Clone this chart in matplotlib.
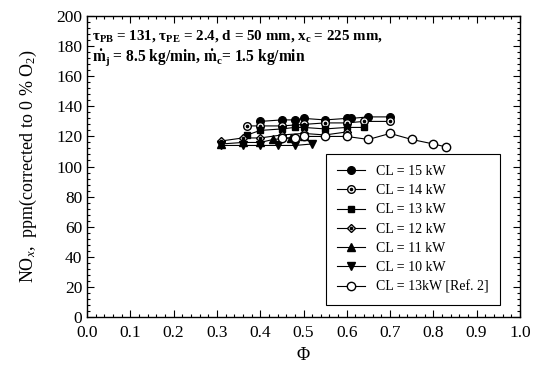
import matplotlib
matplotlib.use("Agg")
import matplotlib.pyplot as plt
from matplotlib.ticker import MultipleLocator

plt.rcParams['font.family'] = ['Liberation Serif', 'DejaVu Serif']
plt.rcParams['mathtext.fontset'] = 'custom'
plt.rcParams['mathtext.rm'] = 'Liberation Serif'
plt.rcParams['mathtext.it'] = 'Liberation Serif:italic'
plt.rcParams['mathtext.bf'] = 'Liberation Serif:bold'

# equivalence ratio vs NOx for each combustor load
phi_15 = [0.40, 0.45, 0.48, 0.50, 0.55, 0.60, 0.61, 0.65, 0.70]
nox_15 = [130, 131, 131, 132, 131, 132, 132, 133, 133]

phi_14 = [0.37, 0.40, 0.45, 0.50, 0.55, 0.60, 0.64, 0.70]
nox_14 = [127, 127, 127, 128, 129, 129, 130, 130]

phi_13 = [0.37, 0.40, 0.45, 0.48, 0.50, 0.55, 0.60, 0.64]
nox_13 = [121, 124, 125, 126, 126, 125, 126, 126]

phi_12 = [0.31, 0.36, 0.40, 0.45, 0.50, 0.55, 0.60]
nox_12 = [117, 119, 119, 121, 122, 121, 123]

phi_11 = [0.31, 0.36, 0.40, 0.43, 0.47, 0.50]
nox_11 = [115, 116, 116, 118, 119, 120]

phi_10 = [0.31, 0.36, 0.40, 0.44, 0.48, 0.52]
nox_10 = [114, 114, 114, 114, 114, 115]

phi_ref = [0.45, 0.48, 0.50, 0.55, 0.60, 0.65, 0.70, 0.75, 0.80, 0.83]
nox_ref = [119, 119, 120, 120, 120, 118, 122, 118, 115, 113]

fig = plt.figure(figsize=(5.41, 3.85), dpi=100)
ax = fig.add_axes([0.161, 0.177, 0.800, 0.781])

ms = 5.5
h15, = ax.plot(phi_15, nox_15, '-o', color='k', mfc='k', ms=ms, lw=0.8)
h14a, = ax.plot(phi_14, nox_14, '-o', color='k', mfc='white', ms=ms, lw=0.8)
h14b, = ax.plot(phi_14, nox_14, 'o', color='k', ms=1.6, lw=0)
h13, = ax.plot(phi_13, nox_13, '-s', color='k', mfc='k', ms=ms - 0.5, lw=0.8)
h12a, = ax.plot(phi_12, nox_12, '-D', color='k', mfc='white', ms=ms - 1, lw=0.8)
h12b, = ax.plot(phi_12, nox_12, 'o', color='k', ms=1.6, lw=0)
h11, = ax.plot(phi_11, nox_11, '-^', color='k', mfc='k', ms=ms, lw=0.8)
h10, = ax.plot(phi_10, nox_10, '-v', color='k', mfc='k', ms=ms, lw=0.8)
href, = ax.plot(phi_ref, nox_ref, '-o', color='k', mfc='white', ms=ms + 0.5, lw=0.8)

ax.set_xlim(0, 1.0)
ax.set_ylim(0, 200)
ax.xaxis.set_major_locator(MultipleLocator(0.1))
ax.xaxis.set_minor_locator(MultipleLocator(0.02))
ax.yaxis.set_major_locator(MultipleLocator(20))
ax.yaxis.set_minor_locator(MultipleLocator(4))
ax.tick_params(which='both', direction='in', top=True, right=True, labelsize=12.5)
ax.tick_params(which='major', length=5, width=0.8)
ax.tick_params(which='minor', length=2.5, width=0.8)
ax.tick_params(axis='x', which='major', pad=6)
ax.set_xticklabels([f"{v:.1f}" for v in ax.get_xticks()])
for s in ax.spines.values():
    s.set_linewidth(1.0)

ax.set_xlabel(r'$\Phi$', fontsize=13, labelpad=4)
ax.set_ylabel(r'NO$_{x}$,  ppm(corrected to 0 % O$_2$)', fontsize=13, labelpad=12)

ax.text(0.012, 0.935,
        r'τ$_\mathbf{PB}$ = 131, τ$_\mathbf{PE}$ = 2.4, d = 50 mm, '
        r'x$_\mathbf{c}$ = 225 mm,',
        transform=ax.transAxes, fontsize=10.8, fontweight='bold',
        va='center', ha='left')
ax.text(0.012, 0.862,
        r'$\mathbf{\dot{m}_j}$ = 8.5 kg/min, $\mathbf{\dot{m}_c}$= 1.5 kg/min',
        transform=ax.transAxes, fontsize=11.2, fontweight='bold',
        va='center', ha='left')

handles = [h15, (h14a, h14b), h13, (h12a, h12b), h11, h10, href]
labels = ['CL = 15 kW', 'CL = 14 kW', 'CL = 13 kW', 'CL = 12 kW',
          'CL = 11 kW', 'CL = 10 kW', 'CL = 13kW [Ref. 2]']
leg = ax.legend(handles, labels, loc='lower left', bbox_to_anchor=(0.552, 0.04),
                fontsize=10, frameon=True, fancybox=False, edgecolor='k',
                framealpha=1, labelspacing=0.45, handlelength=2.0,
                borderpad=0.8, borderaxespad=0)
leg.get_frame().set_linewidth(0.8)

fig.savefig('out.png', dpi=100)
